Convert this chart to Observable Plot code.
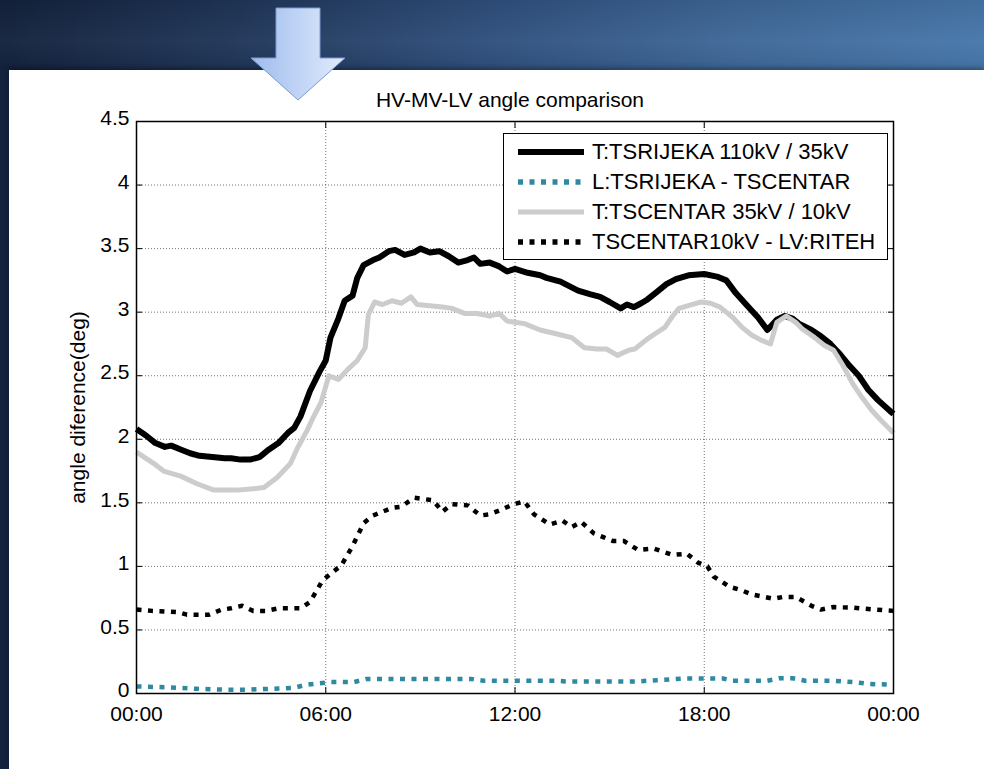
<!DOCTYPE html>
<html>
<head>
<meta charset="utf-8">
<script src="https://cdn.jsdelivr.net/npm/d3@7"></script>
<script src="https://cdn.jsdelivr.net/npm/@observablehq/plot@0.6"></script>
<style>
html, body { margin: 0; padding: 0; }
body {
  width: 984px; height: 769px; overflow: hidden; position: relative;
  background: linear-gradient(90deg, #13223d 0%, #1f3456 22%, #30507e 50%, #3f6898 75%, #4777ab 100%);
  font-family: "Liberation Sans", Arial, sans-serif;
}
#topshade {
  position: absolute; left: 0; top: 0; width: 984px; height: 70px;
  background: linear-gradient(180deg, rgba(0,0,0,0.08) 0%, rgba(255,255,255,0.03) 60%, rgba(0,0,0,0.05) 100%);
}
#panel {
  position: absolute; left: 9px; top: 70px; right: 0; bottom: 0; background: #fff;
  box-shadow: 0 -2px 5px rgba(0,0,0,0.35);
}
#arrow { position: absolute; left: 246px; top: 4px; }
#title {
  position: absolute; left: 310px; width: 400px; top: 88px; text-align: center;
  font-size: 21px; color: #000; white-space: nowrap;
}
#chart { position: absolute; left: 0; top: 80px; }
#legend {
  position: absolute; left: 503px; top: 133px; width: 383px; height: 122px;
  border: 1px solid #000; background: #fff; box-sizing: content-box;
  padding-top: 3px;
}
.row { display: flex; align-items: center; height: 30px; }
.row svg { flex: none; }
.row span { font-size: 22px; color: #000; margin-left: 6px; white-space: nowrap; }
</style>
</head>
<body>
<div id="topshade"></div>
<div id="panel"></div>
<svg id="arrow" width="104" height="100" viewBox="0 0 104 100">
  <defs>
    <linearGradient id="ag" x1="0" y1="0" x2="1" y2="0">
      <stop offset="0" stop-color="#9fbbec"/>
      <stop offset="0.55" stop-color="#c3d6f6"/>
      <stop offset="1" stop-color="#e2ebfb"/>
    </linearGradient>
  </defs>
  <polygon points="30,4 74,4 74,54 99,54 52,96 5,54 30,54" fill="url(#ag)" stroke="#7d9bcf" stroke-width="1"/>
</svg>
<div id="title">HV-MV-LV angle comparison</div>
<div id="chart"></div>
<div id="legend"></div>
<script>
// ---- data ----
const seriesNames = [
  "T:TSRIJEKA 110kV / 35kV",
  "L:TSRIJEKA - TSCENTAR",
  "T:TSCENTAR 35kV / 10kV",
  "TSCENTAR10kV - LV:RITEH"
];

const xTicks = [0, 6, 12, 18, 24];
const xTickLabels = ["00:00", "06:00", "12:00", "18:00", "00:00"];
const yTicks = [0, 0.5, 1, 1.5, 2, 2.5, 3, 3.5, 4, 4.5];
const yTickLabels = ["0", "0.5", "1", "1.5", "2", "2.5", "3", "3.5", "4", "4.5"];
const yLabel = "angle diference(deg)";

// T:TSRIJEKA 110kV / 35kV
const s1Hours = [0, 0.3, 0.6, 0.9, 1.1, 1.4, 1.7, 2.0, 2.4, 2.8, 3.0, 3.3, 3.6, 3.9, 4.2, 4.5, 4.8, 5.0, 5.2, 5.5, 5.8, 6.0, 6.15, 6.4, 6.6, 6.85, 7.0, 7.2, 7.5, 7.7, 8.0, 8.2, 8.5, 8.8, 9.0, 9.3, 9.6, 9.9, 10.2, 10.5, 10.7, 10.9, 11.2, 11.5, 11.75, 12.0, 12.4, 12.8, 13.0, 13.44, 14.0, 14.4, 14.7, 15.0, 15.35, 15.55, 15.77, 16.0, 16.2, 16.5, 16.8, 17.1, 17.5, 18.0, 18.4, 18.7, 19.0, 19.4, 19.7, 20.0, 20.3, 20.55, 20.8, 21.0, 21.4, 21.7, 22.0, 22.3, 22.6, 22.9, 23.2, 23.5, 23.9, 24.0];
const s1Values = [2.08, 2.03, 1.97, 1.94, 1.95, 1.92, 1.89, 1.87, 1.86, 1.85, 1.85, 1.84, 1.84, 1.86, 1.92, 1.97, 2.05, 2.09, 2.18, 2.38, 2.53, 2.62, 2.80, 2.95, 3.09, 3.13, 3.27, 3.37, 3.41, 3.43, 3.48, 3.49, 3.45, 3.47, 3.50, 3.47, 3.48, 3.44, 3.39, 3.41, 3.43, 3.38, 3.39, 3.36, 3.32, 3.34, 3.31, 3.29, 3.27, 3.24, 3.17, 3.14, 3.12, 3.08, 3.03, 3.06, 3.04, 3.07, 3.10, 3.16, 3.22, 3.26, 3.29, 3.30, 3.28, 3.25, 3.15, 3.04, 2.96, 2.86, 2.94, 2.97, 2.95, 2.91, 2.86, 2.81, 2.75, 2.67, 2.58, 2.50, 2.39, 2.31, 2.22, 2.20];

// L:TSRIJEKA - TSCENTAR
const s2Hours = [0, 0.9, 1.9, 2.8, 3.5, 4.25, 5.0, 5.4, 6.15, 6.9, 7.3, 8.2, 9.5, 10.6, 11.0, 12.0, 13.3, 13.6, 15.9, 16.5, 17.4, 18.6, 18.9, 20.0, 20.4, 20.8, 21.2, 22.1, 22.85, 23.2, 24.0];
const s2Values = [0.055, 0.05, 0.037, 0.03, 0.03, 0.037, 0.045, 0.07, 0.09, 0.09, 0.115, 0.115, 0.115, 0.115, 0.10, 0.10, 0.10, 0.095, 0.095, 0.105, 0.118, 0.118, 0.10, 0.10, 0.12, 0.12, 0.10, 0.10, 0.087, 0.075, 0.07];

// T:TSCENTAR 35kV / 10kV
const s3Hours = [0, 0.3, 0.6, 0.86, 1.4, 1.92, 2.45, 3.2, 3.7, 4.04, 4.46, 4.88, 5.1, 5.41, 5.6, 5.85, 6.1, 6.4, 6.7, 7.0, 7.25, 7.35, 7.55, 7.8, 8.1, 8.4, 8.7, 8.9, 9.3, 9.7, 10.0, 10.4, 10.8, 11.2, 11.5, 11.75, 12.0, 12.3, 12.8, 13.3, 13.8, 14.2, 14.6, 14.9, 15.25, 15.6, 15.8, 16.2, 16.5, 16.75, 17.0, 17.2, 17.6, 17.9, 18.2, 18.5, 18.9, 19.2, 19.5, 19.8, 20.1, 20.3, 20.6, 20.9, 21.1, 21.5, 21.8, 22.1, 22.4, 22.7, 23.0, 23.3, 23.6, 24.0];
const s3Values = [1.90, 1.85, 1.80, 1.75, 1.71, 1.65, 1.60, 1.60, 1.61, 1.62, 1.70, 1.81, 1.93, 2.07, 2.17, 2.29, 2.50, 2.47, 2.55, 2.62, 2.72, 2.98, 3.08, 3.06, 3.09, 3.07, 3.12, 3.06, 3.05, 3.04, 3.03, 2.99, 2.99, 2.97, 2.99, 2.93, 2.92, 2.91, 2.86, 2.83, 2.80, 2.72, 2.71, 2.71, 2.66, 2.70, 2.71, 2.79, 2.84, 2.88, 2.97, 3.03, 3.06, 3.08, 3.07, 3.04, 2.96, 2.88, 2.82, 2.78, 2.75, 2.92, 2.97, 2.92, 2.87, 2.80, 2.74, 2.70, 2.58, 2.44, 2.33, 2.23, 2.15, 2.05];

// TSCENTAR10kV - LV:RITEH
const s4Hours = [0, 0.5, 0.9, 1.3, 1.6, 2.0, 2.3, 2.7, 3.0, 3.35, 3.7, 4.1, 4.5, 4.8, 5.2, 5.5, 5.9, 6.2, 6.5, 6.85, 7.2, 7.5, 7.8, 8.1, 8.4, 8.8, 9.1, 9.4, 9.7, 10.0, 10.5, 10.9, 11.2, 11.6, 11.96, 12.3, 12.6, 13.1, 13.5, 13.8, 14.1, 14.5, 14.8, 15.1, 15.45, 15.9, 16.4, 17.0, 17.45, 17.8, 18.1, 18.3, 18.8, 19.2, 19.5, 20.2, 20.5, 20.9, 21.4, 21.7, 22.1, 22.7, 23.4, 24.0];
const s4Values = [0.66, 0.65, 0.645, 0.64, 0.62, 0.62, 0.62, 0.66, 0.67, 0.69, 0.65, 0.65, 0.67, 0.67, 0.67, 0.72, 0.89, 0.95, 1.01, 1.16, 1.34, 1.40, 1.43, 1.46, 1.47, 1.54, 1.53, 1.52, 1.43, 1.49, 1.48, 1.40, 1.41, 1.45, 1.49, 1.51, 1.41, 1.33, 1.36, 1.31, 1.35, 1.26, 1.23, 1.20, 1.20, 1.13, 1.14, 1.09, 1.10, 1.03, 1.00, 0.92, 0.84, 0.81, 0.78, 0.745, 0.76, 0.76, 0.69, 0.66, 0.68, 0.675, 0.66, 0.65];

// ---- styles (not data) ----
const lineStyles = [
  {stroke: "#000000", strokeWidth: 6, dash: null},
  {stroke: "#2f8aa0", strokeWidth: 4.5, dash: "5,6.5"},
  {stroke: "#cccccc", strokeWidth: 5, dash: null},
  {stroke: "#000000", strokeWidth: 4.5, dash: "5,6.5"}
];

const toRows = (hs, vs) => hs.map((h, i) => ({h, v: vs[i]}));
const seriesData = [
  toRows(s1Hours, s1Values),
  toRows(s2Hours, s2Values),
  toRows(s3Hours, s3Values),
  toRows(s4Hours, s4Values)
];

const lineMarks = seriesData.map((data, i) => Plot.line(data, {
  x: "h", y: "v",
  stroke: lineStyles[i].stroke,
  strokeWidth: lineStyles[i].strokeWidth,
  strokeDasharray: lineStyles[i].dash,
  strokeLinejoin: "round",
  strokeLinecap: "butt"
}));

const chart = Plot.plot({
  width: 984,
  height: 663,
  marginLeft: 136,
  marginRight: 91,
  marginTop: 41,
  marginBottom: 50,
  style: {background: "transparent", fontFamily: "'Liberation Sans', Arial, sans-serif", fontSize: "21px", color: "#000"},
  x: {domain: [0, 24]},
  y: {domain: [0, 4.5]},
  marks: [
    Plot.gridX({ticks: xTicks, stroke: "#000", strokeOpacity: 0.55, strokeDasharray: "1,2"}),
    Plot.gridY({ticks: yTicks, stroke: "#000", strokeOpacity: 0.55, strokeDasharray: "1,2"}),
    ...lineMarks,
    Plot.axisY({anchor: "left", ticks: yTicks, tickSize: 0, tickPadding: 7, dy: -3,
      tickFormat: d => yTickLabels[yTicks.indexOf(d)],
      label: null}),
    Plot.axisY({anchor: "left", ticks: [], tickSize: 0, label: yLabel, labelAnchor: "center", labelOffset: 66, labelArrow: "none"}),
    Plot.axisY({anchor: "left", ticks: yTicks, tickSize: -6, fill: "none", label: null}),
    Plot.axisY({anchor: "right", ticks: yTicks, tickSize: -6, fill: "none", label: null}),
    Plot.axisX({anchor: "bottom", ticks: xTicks, tickSize: 0, tickPadding: 13, label: null,
      tickFormat: d => xTickLabels[xTicks.indexOf(d)]}),
    Plot.axisX({anchor: "bottom", ticks: xTicks, tickSize: -6, fill: "none", label: null}),
    Plot.axisX({anchor: "top", ticks: xTicks, tickSize: -6, fill: "none", label: null}),
    Plot.frame({stroke: "#000", strokeWidth: 1.5})
  ]
});
document.getElementById("chart").appendChild(chart);

// ---- legend ----
const legend = document.getElementById("legend");
seriesNames.forEach((name, i) => {
  const st = lineStyles[i];
  const row = document.createElement("div");
  row.className = "row";
  row.innerHTML =
    `<svg width="82" height="30"><line x1="14" x2="80" y1="15" y2="15" stroke="${st.stroke}" stroke-width="${st.strokeWidth + (st.dash ? 1 : 0)}"${st.dash ? ` stroke-dasharray="${st.dash}"` : ""}/></svg><span>${name}</span>`;
  legend.appendChild(row);
});
</script>
</body>
</html>
